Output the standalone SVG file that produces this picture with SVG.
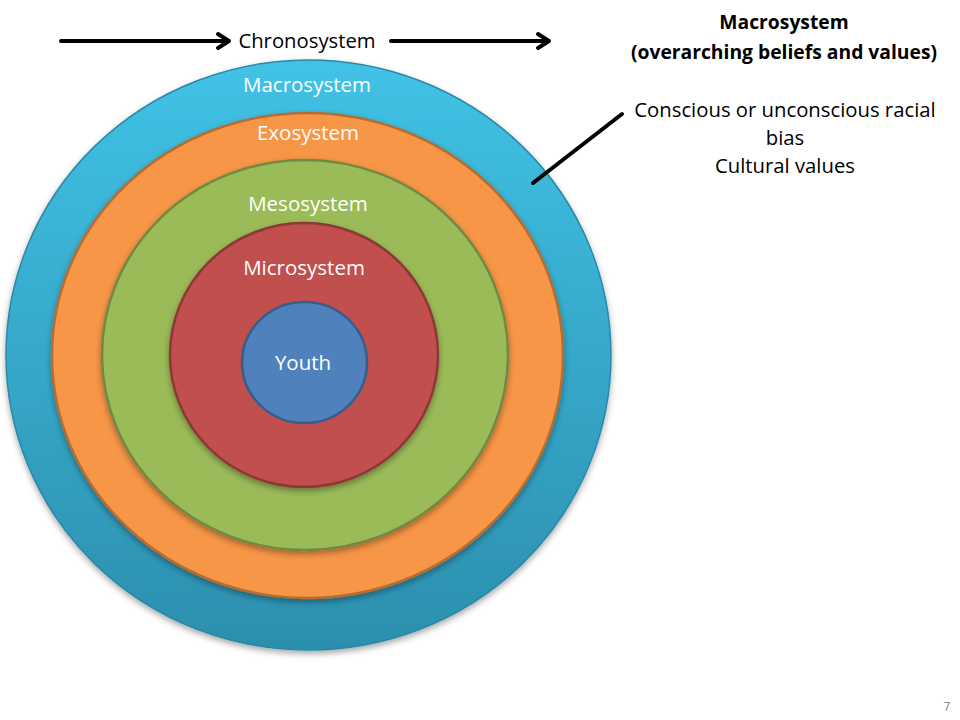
<svg xmlns="http://www.w3.org/2000/svg" width="960" height="720" viewBox="0 0 960 720">
<defs>
<linearGradient id="gBlue" x1="0" y1="0" x2="0" y2="1">
<stop offset="0" stop-color="#40C2E6"/>
<stop offset="1" stop-color="#2C8FAE"/>
</linearGradient>
<filter id="sh" x="-10%" y="-10%" width="120%" height="125%">
<feDropShadow dx="0" dy="3" stdDeviation="3" flood-color="#000" flood-opacity="0.35"/>
</filter>
</defs>
<style>
.lbl{font-family:"Open Sans","Liberation Sans",Arial,sans-serif;font-size:20.5px;fill:#fff;text-anchor:middle}
.blk{font-family:"Open Sans","Liberation Sans",Arial,sans-serif;font-size:20.3px;fill:#000;text-anchor:middle}
.bold{font-weight:bold;font-size:19.3px}
.ln{stroke:#000;stroke-width:4;fill:none;stroke-linecap:round;stroke-linejoin:round}
</style>
<rect width="960" height="720" fill="#fff"/>
<g id="macro">
<ellipse cx="308.5" cy="355" rx="302.5" ry="295" fill="url(#gBlue)" stroke="#2A88A6" stroke-width="1.5" filter="url(#sh)"/>
<text class="lbl" x="307" y="92">Macrosystem</text>
</g>
<g id="exo">
<ellipse cx="307.5" cy="355.5" rx="255.5" ry="242.5" fill="#F79646" stroke="#B66D31" stroke-width="2.5" filter="url(#sh)"/>
<text class="lbl" x="308" y="140">Exosystem</text>
</g>
<g id="meso">
<ellipse cx="305" cy="355" rx="203" ry="195" fill="#9BBB59" stroke="#71893F" stroke-width="2.5" filter="url(#sh)"/>
<text class="lbl" x="308" y="211">Mesosystem</text>
</g>
<g id="micro">
<ellipse cx="304" cy="355" rx="134" ry="132" fill="#C0504D" stroke="#8C3836" stroke-width="2.5" filter="url(#sh)"/>
<text class="lbl" x="304" y="275">Microsystem</text>
</g>
<g id="youth">
<ellipse cx="304.5" cy="362.5" rx="62.5" ry="60.5" fill="#4F81BD" stroke="#385D8A" stroke-width="2.5"/>
<text class="lbl" x="303" y="370">Youth</text>
</g>
<g id="chrono">
<text class="blk" x="307" y="48">Chronosystem</text>
</g>
<g id="macro-note">
<text class="blk bold" x="784" y="29">Macrosystem</text>
<text class="blk bold" x="784" y="59">(overarching beliefs and values)</text>
<text class="blk" x="785" y="117">Conscious or unconscious racial</text>
<text class="blk" x="785" y="145">bias</text>
<text class="blk" x="785" y="173">Cultural values</text>
</g>
<g id="connectors">
<line class="ln" x1="61" y1="41" x2="228" y2="41"/>
<polyline class="ln" points="218,34 229,41 218,48"/>
<line class="ln" x1="391" y1="41" x2="548" y2="41"/>
<polyline class="ln" points="538,34 549,41 538,48"/>
<line class="ln" x1="533" y1="183" x2="622" y2="114"/>
</g>
<text x="947" y="711" font-family="Liberation Sans,Arial,sans-serif" font-size="12" fill="#8C8C8C" text-anchor="middle">7</text>
</svg>
